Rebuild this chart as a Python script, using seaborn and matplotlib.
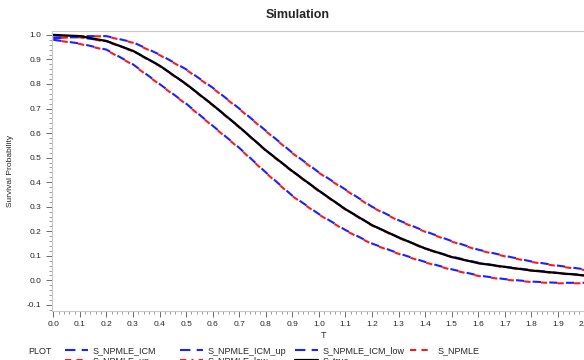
import numpy as np
import pandas as pd
import matplotlib
matplotlib.use('Agg')
import matplotlib.pyplot as plt
import seaborn as sns
from matplotlib.lines import Line2D
from matplotlib.ticker import MultipleLocator

# Değerler
T = [0.0, 0.1, 0.2, 0.3, 0.4, 0.5, 0.6, 0.7, 0.8, 0.9, 1.0,
     1.1, 1.2, 1.3, 1.4, 1.5, 1.6, 1.7, 1.8, 1.9, 2.0]

s_true = [1.0, 0.995, 0.975, 0.935, 0.875, 0.80, 0.715, 0.625, 0.53, 0.445, 0.365,
          0.29, 0.225, 0.175, 0.13, 0.095, 0.07, 0.055, 0.04, 0.03, 0.02]

s_icm = [0.99, 0.99, 0.975, 0.935, 0.875, 0.80, 0.715, 0.625, 0.53, 0.445, 0.365,
         0.29, 0.225, 0.175, 0.13, 0.097, 0.072, 0.055, 0.042, 0.03, 0.022]
s_icm_up = [0.985, 0.995, 0.995, 0.97, 0.92, 0.86, 0.785, 0.70, 0.61, 0.52, 0.44,
            0.37, 0.30, 0.245, 0.20, 0.16, 0.125, 0.10, 0.077, 0.06, 0.045]
s_icm_low = [0.98, 0.965, 0.94, 0.88, 0.80, 0.72, 0.63, 0.54, 0.44, 0.345, 0.27,
             0.205, 0.15, 0.11, 0.075, 0.045, 0.02, 0.005, -0.005, -0.01, -0.01]

s_npmle = [0.99, 0.99, 0.973, 0.933, 0.873, 0.798, 0.713, 0.623, 0.528, 0.443, 0.363,
           0.288, 0.223, 0.173, 0.128, 0.095, 0.07, 0.053, 0.04, 0.028, 0.02]
s_npmle_up = [0.985, 0.995, 0.994, 0.968, 0.918, 0.858, 0.783, 0.698, 0.608, 0.518, 0.438,
              0.368, 0.298, 0.243, 0.198, 0.158, 0.123, 0.098, 0.075, 0.058, 0.042]
s_npmle_low = [0.98, 0.963, 0.938, 0.878, 0.798, 0.718, 0.628, 0.538, 0.438, 0.343, 0.268,
               0.203, 0.148, 0.108, 0.073, 0.043, 0.018, 0.003, -0.007, -0.012, -0.012]

sns.set_style('white')
plt.rcParams['font.family'] = ['Liberation Sans', 'DejaVu Sans']

fig = plt.figure(figsize=(5.84, 3.6), dpi=100)
ax = fig.add_axes([0.089, 0.136, 0.93, 0.778])

blue = '#1f1fff'
red = '#ff1a1a'
lw = 1.5

series = [
    ('S_NPMLE_ICM', s_icm, blue, (0, (4, 4))),
    ('S_NPMLE_ICM_up', s_icm_up, blue, (0, (4, 4))),
    ('S_NPMLE_ICM_low', s_icm_low, blue, (0, (4, 4))),
    ('S_NPMLE', s_npmle, red, (4, (3, 5))),
    ('S_NPMLE_up', s_npmle_up, red, (4, (3, 5))),
    ('S_NPMLE_low', s_npmle_low, red, (4, (3, 5))),
]

for name, vals, col, ls in series:
    sns.lineplot(x=T, y=vals, ax=ax, color=col, linestyle=ls, linewidth=lw)
sns.lineplot(x=T, y=s_true, ax=ax, color='black', linewidth=1.6)

ax.set_xlim(-0.005, 2.04)
ax.set_ylim(-0.125, 1.016)
ax.xaxis.set_major_locator(MultipleLocator(0.1))
ax.xaxis.set_minor_locator(MultipleLocator(0.02))
ax.yaxis.set_major_locator(MultipleLocator(0.1))
ax.yaxis.set_minor_locator(MultipleLocator(0.02))
ax.xaxis.set_major_formatter(plt.FuncFormatter(lambda v, p: f'{v:.1f}'))
ax.yaxis.set_major_formatter(plt.FuncFormatter(lambda v, p: f'{v:.1f}'))
ax.tick_params(axis='both', which='major', length=4, width=0.6, color='#555555',
               labelsize=6, direction='out', bottom=True, left=True)
ax.tick_params(axis='both', which='minor', length=2, width=0.5, color='#777777',
               bottom=True, left=True)
for sp in ax.spines.values():
    sp.set_color('#c8c8c8')
    sp.set_linewidth(0.8)

ax.set_xlabel('T', fontsize=6.5, labelpad=2)
ax.set_ylabel('Survival Probability', fontsize=6, labelpad=9)
fig.text(0.509, 0.957, 'Simulation', ha='center', va='center',
         fontsize=9, fontweight='bold')

# legend örnekleri (SAS görünümü)
proxy = {
    'S_NPMLE_ICM': Line2D([], [], color=blue, lw=lw, dashes=(5, 3)),
    'S_NPMLE_ICM_up': Line2D([], [], color=blue, lw=lw, dashes=(5, 3)),
    'S_NPMLE_ICM_low': Line2D([], [], color=blue, lw=lw, dashes=(5, 3)),
    'S_NPMLE': Line2D([], [], color=red, lw=lw, dashes=(3, 2.5)),
    'S_NPMLE_up': Line2D([], [], color=red, lw=lw, dashes=(3, 2.5)),
    'S_NPMLE_low': Line2D([], [], color=red, lw=lw, dashes=(3, 2.5, 1, 2.5)),
    'S_true': Line2D([], [], color='black', lw=1.6),
}

fig.text(0.048, 0.025, 'PLOT', fontsize=6.5, va='center')
names_r1 = ['S_NPMLE_ICM', 'S_NPMLE_ICM_up', 'S_NPMLE_ICM_low', 'S_NPMLE']
names_r2 = ['S_NPMLE_up', 'S_NPMLE_low', 'S_true']
col_x = [65, 180, 295, 410]
for row_y, names in [(351, names_r1), (361, names_r2)]:
    for cx, nm in zip(col_x, names):
        fig.legend([proxy[nm]], [nm], loc='center left',
                   bbox_to_anchor=(cx / 584, 1 - row_y / 360),
                   frameon=False, fontsize=6.5, handlelength=2.5,
                   handletextpad=0.6, borderpad=0, borderaxespad=0)

fig.savefig('out.png', dpi=100)
